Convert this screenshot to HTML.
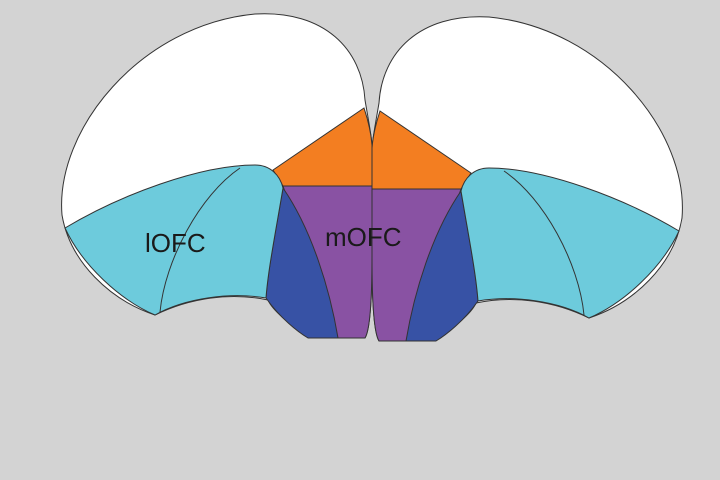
<!DOCTYPE html>
<html><head><style>
html,body{margin:0;padding:0;background:#d3d3d3;}
svg{display:block;}
</style></head><body>
<svg width="720" height="480" viewBox="0 0 720 480" xmlns="http://www.w3.org/2000/svg">
<rect width="720" height="480" fill="#d3d3d3"/>
<defs>
<g id="hemi" stroke="#333" stroke-width="1">
  <path d="M155,315 C110,300 70,262 62,215 C55,130 140,25 255,14 C325,10 362,50 365,100 C368,118 371,132 372,145 L372,255 C372,300 370,330 365,338 L310,338 C290,325 272,310 268,300 C230,292 190,298 155,315 Z" fill="#ffffff"/>
  <path d="M273,170 L364,108 C368,120 371,132 372,145 L372,186 L283,186 Z" fill="#f37e21"/>
  <path d="M283,186 L372,186 L372,255 C372,300 370,330 365,338 L335,338 Z" fill="#8952a3"/>
  <path d="M283,188 C276,230 268,270 266,298 C280,318 298,332 308,338 L338,338 C330,290 312,230 283,188 Z" fill="#3752a5"/>
  <path d="M65,228 C120,195 200,165 255,165 C270,165 280,175 283,188 C276,230 268,270 266,298 C230,292 185,298 155,315 C120,300 82,265 65,228 Z" fill="#6dcbdc"/>
  <path d="M240,168 C200,195 165,260 160,312" fill="none"/>
</g>
</defs>
<use href="#hemi"/>
<use href="#hemi" transform="translate(744,3) scale(-1,1)"/>
<text x="145" y="252" font-family="Liberation Sans, sans-serif" font-size="26" fill="#1a1a1a">lOFC</text>
<text x="325" y="246" font-family="Liberation Sans, sans-serif" font-size="26" fill="#1a1a1a">mOFC</text>
</svg>
</body></html>
